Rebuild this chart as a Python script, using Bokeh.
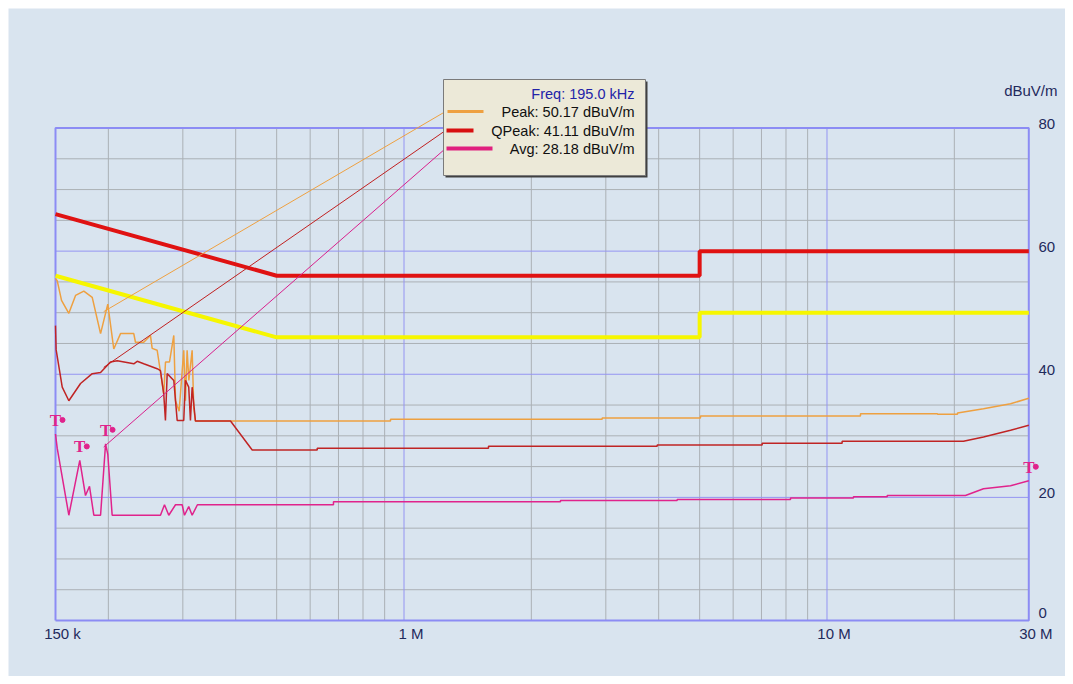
import numpy as np
from bokeh.plotting import figure
from bokeh.models import Range1d
from bokeh.core.properties import value
from bokeh.embed import file_html
from bokeh.resources import INLINE

# ---------------- data (frequencies in kHz, levels in dBuV/m) ----------------
peak_khz = [150, 151.4, 155, 161.3, 167.3, 175.0, 183.2, 191.7, 199.4, 206.0, 213.7, 229.7, 231.8,
            242.5, 251.5, 253.9, 260.9, 270.4, 273.0, 279.0, 285.6, 288.3, 294.0, 301.5, 304.3,
            307.1, 310.0, 315.6, 318.4, 321.3, 929.2, 929.2, 2941, 2941, 5022, 5022, 12000, 12000,
            18250, 18250, 20350, 20350, 23440, 27160, 30000]
peak_db = [55.5, 55.2, 52.0, 49.9, 52.8, 53.5, 52.5, 46.6, 51.4, 44.1, 46.6, 46.6, 45.2,
           45.2, 46.3, 44.2, 43.9, 36.8, 42.0, 42.0, 46.3, 35.7, 34.0, 43.9, 35.7,
           43.9, 39.0, 43.9, 34.5, 32.4, 32.4, 32.7, 32.7, 32.9, 32.9, 33.2, 33.2, 33.6,
           33.6, 33.5, 33.5, 33.7, 34.4, 35.2, 36.1]

qpeak_khz = [150, 150.5, 155.6, 161.3, 171.9, 183.2, 191.7, 202.3, 209.9, 229.7, 234.0, 242.5,
             260.9, 265.6, 270.4, 272.9, 275.5, 285.6, 290.9, 301.5, 304.3, 309.8, 312.7, 315.6,
             321.3, 388.9, 437.7, 623.5, 623.5, 1584, 1584, 3968, 3968, 7027, 7027, 10860, 10860,
             21020, 23440, 27160, 30000]
qpeak_db = [47.9, 44.0, 37.9, 35.7, 38.5, 40.1, 40.3, 42.0, 42.2, 41.7, 42.1, 41.7,
            40.9, 40.6, 36.8, 32.5, 40.1, 39.0, 32.5, 32.5, 39.0, 37.9, 32.5, 37.9,
            32.4, 32.4, 27.7, 27.7, 28.0, 28.0, 28.3, 28.3, 28.5, 28.5, 28.8, 28.8, 29.1,
            29.1, 29.8, 30.9, 31.7]

avg_khz = [150, 151.4, 161.3, 171.2, 176.6, 180.5, 184.8, 191.7, 197.0, 199.4, 204.2, 265.6,
           271.5, 277.9, 288.3, 298.9, 302.7, 309.8, 315.6, 324.8, 681.2, 681.2, 2344, 2344,
           4424, 4424, 8199, 8199, 11550, 11550, 13880, 13880, 21250, 23440, 27160, 30000]
avg_db = [30.3, 28.0, 17.1, 26.0, 20.3, 21.8, 17.1, 17.1, 28.7, 27.0, 17.1, 17.1,
          18.8, 17.1, 18.8, 18.8, 17.1, 18.5, 17.1, 18.8, 18.8, 19.3, 19.3, 19.5,
          19.5, 19.65, 19.65, 19.9, 19.9, 20.1, 20.1, 20.3, 20.3, 21.4, 21.9, 22.7]

limit_khz = [150, 500, 5000, 5000, 30000]
qp_limit_db = [66, 56, 56, 60, 60]
av_limit_db = [56, 46, 46, 50, 50]

# avg peak markers
mark_khz = [150, 171.2, 197.0, 30000]
mark_db = [30.3, 26.0, 28.7, 22.7]

# cursor read-out
cursor_khz = 195.0
cursor_names = ["Peak", "QPeak", "Avg"]
cursor_vals = [50.17, 41.11, 28.18]

x_tick_hz = [150e3, 1e6, 10e6, 30e6]
x_tick_labels = ["150 k", "1 M", "10 M", "30 M"]
y_ticks = [0, 20, 40, 60, 80]
unit_label = "dBuV/m"

# ---------------- layout ----------------
W, H = 1065, 676            # canvas; the coloured panel starts 8 px in
PAN = 8
X0, X1 = 55.0, 1028.3       # diagram frame within canvas
YT, YB = 127.5, 620.0
FMIN, FMAX = 150e3, 30e6
VMIN, VMAX = 0.0, 80.0
ppd = (X1 - X0) / np.log10(FMAX / FMIN)
ppdb = (YB - YT) / (VMAX - VMIN)

def fx(px):
    return FMIN * 10 ** ((px - X0) / ppd)

def fy(py):
    return VMIN + (YB - py) / ppdb

BG = "#d9e4ef"
BLUE = "#9494f2"
GRAY = "#abb0b5"
TXT = "#1f2a5c"
FONT = value("Liberation Sans")

p = figure(width=W, height=H, x_axis_type="log",
           x_range=Range1d(fx(0), fx(W)), y_range=Range1d(fy(H), fy(0)),
           x_axis_location=None, y_axis_location=None,
           toolbar_location=None, output_backend="svg", min_border=0)
p.xgrid.visible = False
p.ygrid.visible = False
p.background_fill_color = "white"
p.border_fill_color = "white"
p.outline_line_color = None

# panel background
p.quad(left=[fx(PAN)], right=[fx(W)], top=[fy(PAN)], bottom=[fy(H)],
       fill_color=BG, line_color=None)

# ---------------- grid ----------------
minor_f = [k * 1e5 for k in range(2, 10)] + [k * 1e6 for k in range(2, 10)] + [2e7]
p.segment(x0=minor_f, x1=minor_f, y0=[VMIN] * len(minor_f), y1=[VMAX] * len(minor_f),
          line_color=GRAY, line_width=1)
minor_v = [v for v in range(5, 80, 5) if v % 20 != 0]
p.segment(x0=[FMIN] * len(minor_v), x1=[FMAX] * len(minor_v), y0=minor_v, y1=minor_v,
          line_color=GRAY, line_width=1)
major_f = [1e6, 1e7]
p.segment(x0=major_f, x1=major_f, y0=[VMIN] * 2, y1=[VMAX] * 2, line_color=BLUE, line_width=1)
major_v = [20, 40, 60]
p.segment(x0=[FMIN] * 3, x1=[FMAX] * 3, y0=major_v, y1=major_v, line_color=BLUE, line_width=1)
# border
p.line([FMIN, FMAX, FMAX, FMIN, FMIN], [VMIN, VMIN, VMAX, VMAX, VMIN],
       line_color="#8c8cf4", line_width=2)

# ---------------- limits ----------------
lim_hz = [k * 1e3 for k in limit_khz]
p.line(lim_hz, av_limit_db, line_color="#f6f600", line_width=4)
p.line(lim_hz, qp_limit_db, line_color="#e01212", line_width=4)

# ---------------- traces ----------------
p.line([k * 1e3 for k in peak_khz], peak_db, line_color="#eea040", line_width=1.5)
p.line([k * 1e3 for k in qpeak_khz], qpeak_db, line_color="#c02424", line_width=1.5)
p.line([k * 1e3 for k in avg_khz], avg_db, line_color="#e0238c", line_width=1.5)

# avg peak markers
mk_hz = [k * 1e3 for k in mark_khz]
p.text(x=mk_hz, y=mark_db, text=["T"] * len(mk_hz), text_font=value("Liberation Serif"),
       text_font_size="17px", text_font_style="bold", text_color="#e0238c",
       text_align="center", text_baseline="bottom", y_offset=-4)
p.scatter(x=[f * 10 ** (7 / ppd) for f in mk_hz], y=[v + 14 / ppdb for v in mark_db],
          marker="circle", size=5, color="#e0238c")

# ---------------- cursor legend ----------------
LB_L, LB_R, LB_T, LB_B = 443, 645, 79, 175
row_y = [111, 130, 148]
leader_cols = ["#eea040", "#c02020", "#d8208c"]
sw_cols = ["#eea040", "#d81010", "#e0207e"]
sw_x0 = [447, 446, 446]
sw_x1 = [483, 473, 492]
sw_w = [3, 4, 4]

for i in range(3):
    p.line([cursor_khz * 1e3, fx(445)], [cursor_vals[i], fy(row_y[i])],
           line_color=leader_cols[i], line_width=1)

p.quad(left=[fx(LB_L + 2)], right=[fx(LB_R + 2)], top=[fy(LB_T + 2)], bottom=[fy(LB_B + 2)],
       fill_color="#404040", line_color=None)
p.quad(left=[fx(LB_L)], right=[fx(LB_R)], top=[fy(LB_T)], bottom=[fy(LB_B)],
       fill_color="#ece9d8", line_color="#7a7a7a", line_width=1)

for i in range(3):
    p.line([fx(sw_x0[i]), fx(sw_x1[i])], [fy(row_y[i])] * 2,
           line_color=sw_cols[i], line_width=sw_w[i])

p.text(x=[fx(634)], y=[fy(93)], text=[f"Freq: {cursor_khz:.1f} kHz"], text_font=FONT,
       text_font_size="14.5px", text_color="#2323a8", text_align="right", text_baseline="middle")
p.text(x=[fx(634)] * 3, y=[fy(r) for r in row_y],
       text=[f"{n}: {v:.2f} dBuV/m" for n, v in zip(cursor_names, cursor_vals)],
       text_font=FONT, text_font_size="14.5px", text_color="#101010",
       text_align="right", text_baseline="middle")

# ---------------- tick labels ----------------
p.text(x=x_tick_hz, y=[VMIN] * 4, text=x_tick_labels, text_font=FONT, text_font_size="15px",
       text_color=TXT, text_align="center", text_baseline="middle", x_offset=7, y_offset=13)
p.text(x=[fx(1038)] * 4, y=y_ticks[1:], text=[str(v) for v in y_ticks[1:]], text_font=FONT,
       text_font_size="15px", text_color=TXT, text_align="left", text_baseline="middle",
       y_offset=-4)
p.text(x=[fx(1038)], y=[y_ticks[0]], text=[str(y_ticks[0])], text_font=FONT,
       text_font_size="15px", text_color=TXT, text_align="left", text_baseline="middle",
       y_offset=-8)
p.text(x=[fx(1057)], y=[fy(90)], text=[unit_label], text_font=FONT, text_font_size="15px",
       text_color=TXT, text_align="right", text_baseline="middle")

open("out.html", "w").write(file_html(p, INLINE))
